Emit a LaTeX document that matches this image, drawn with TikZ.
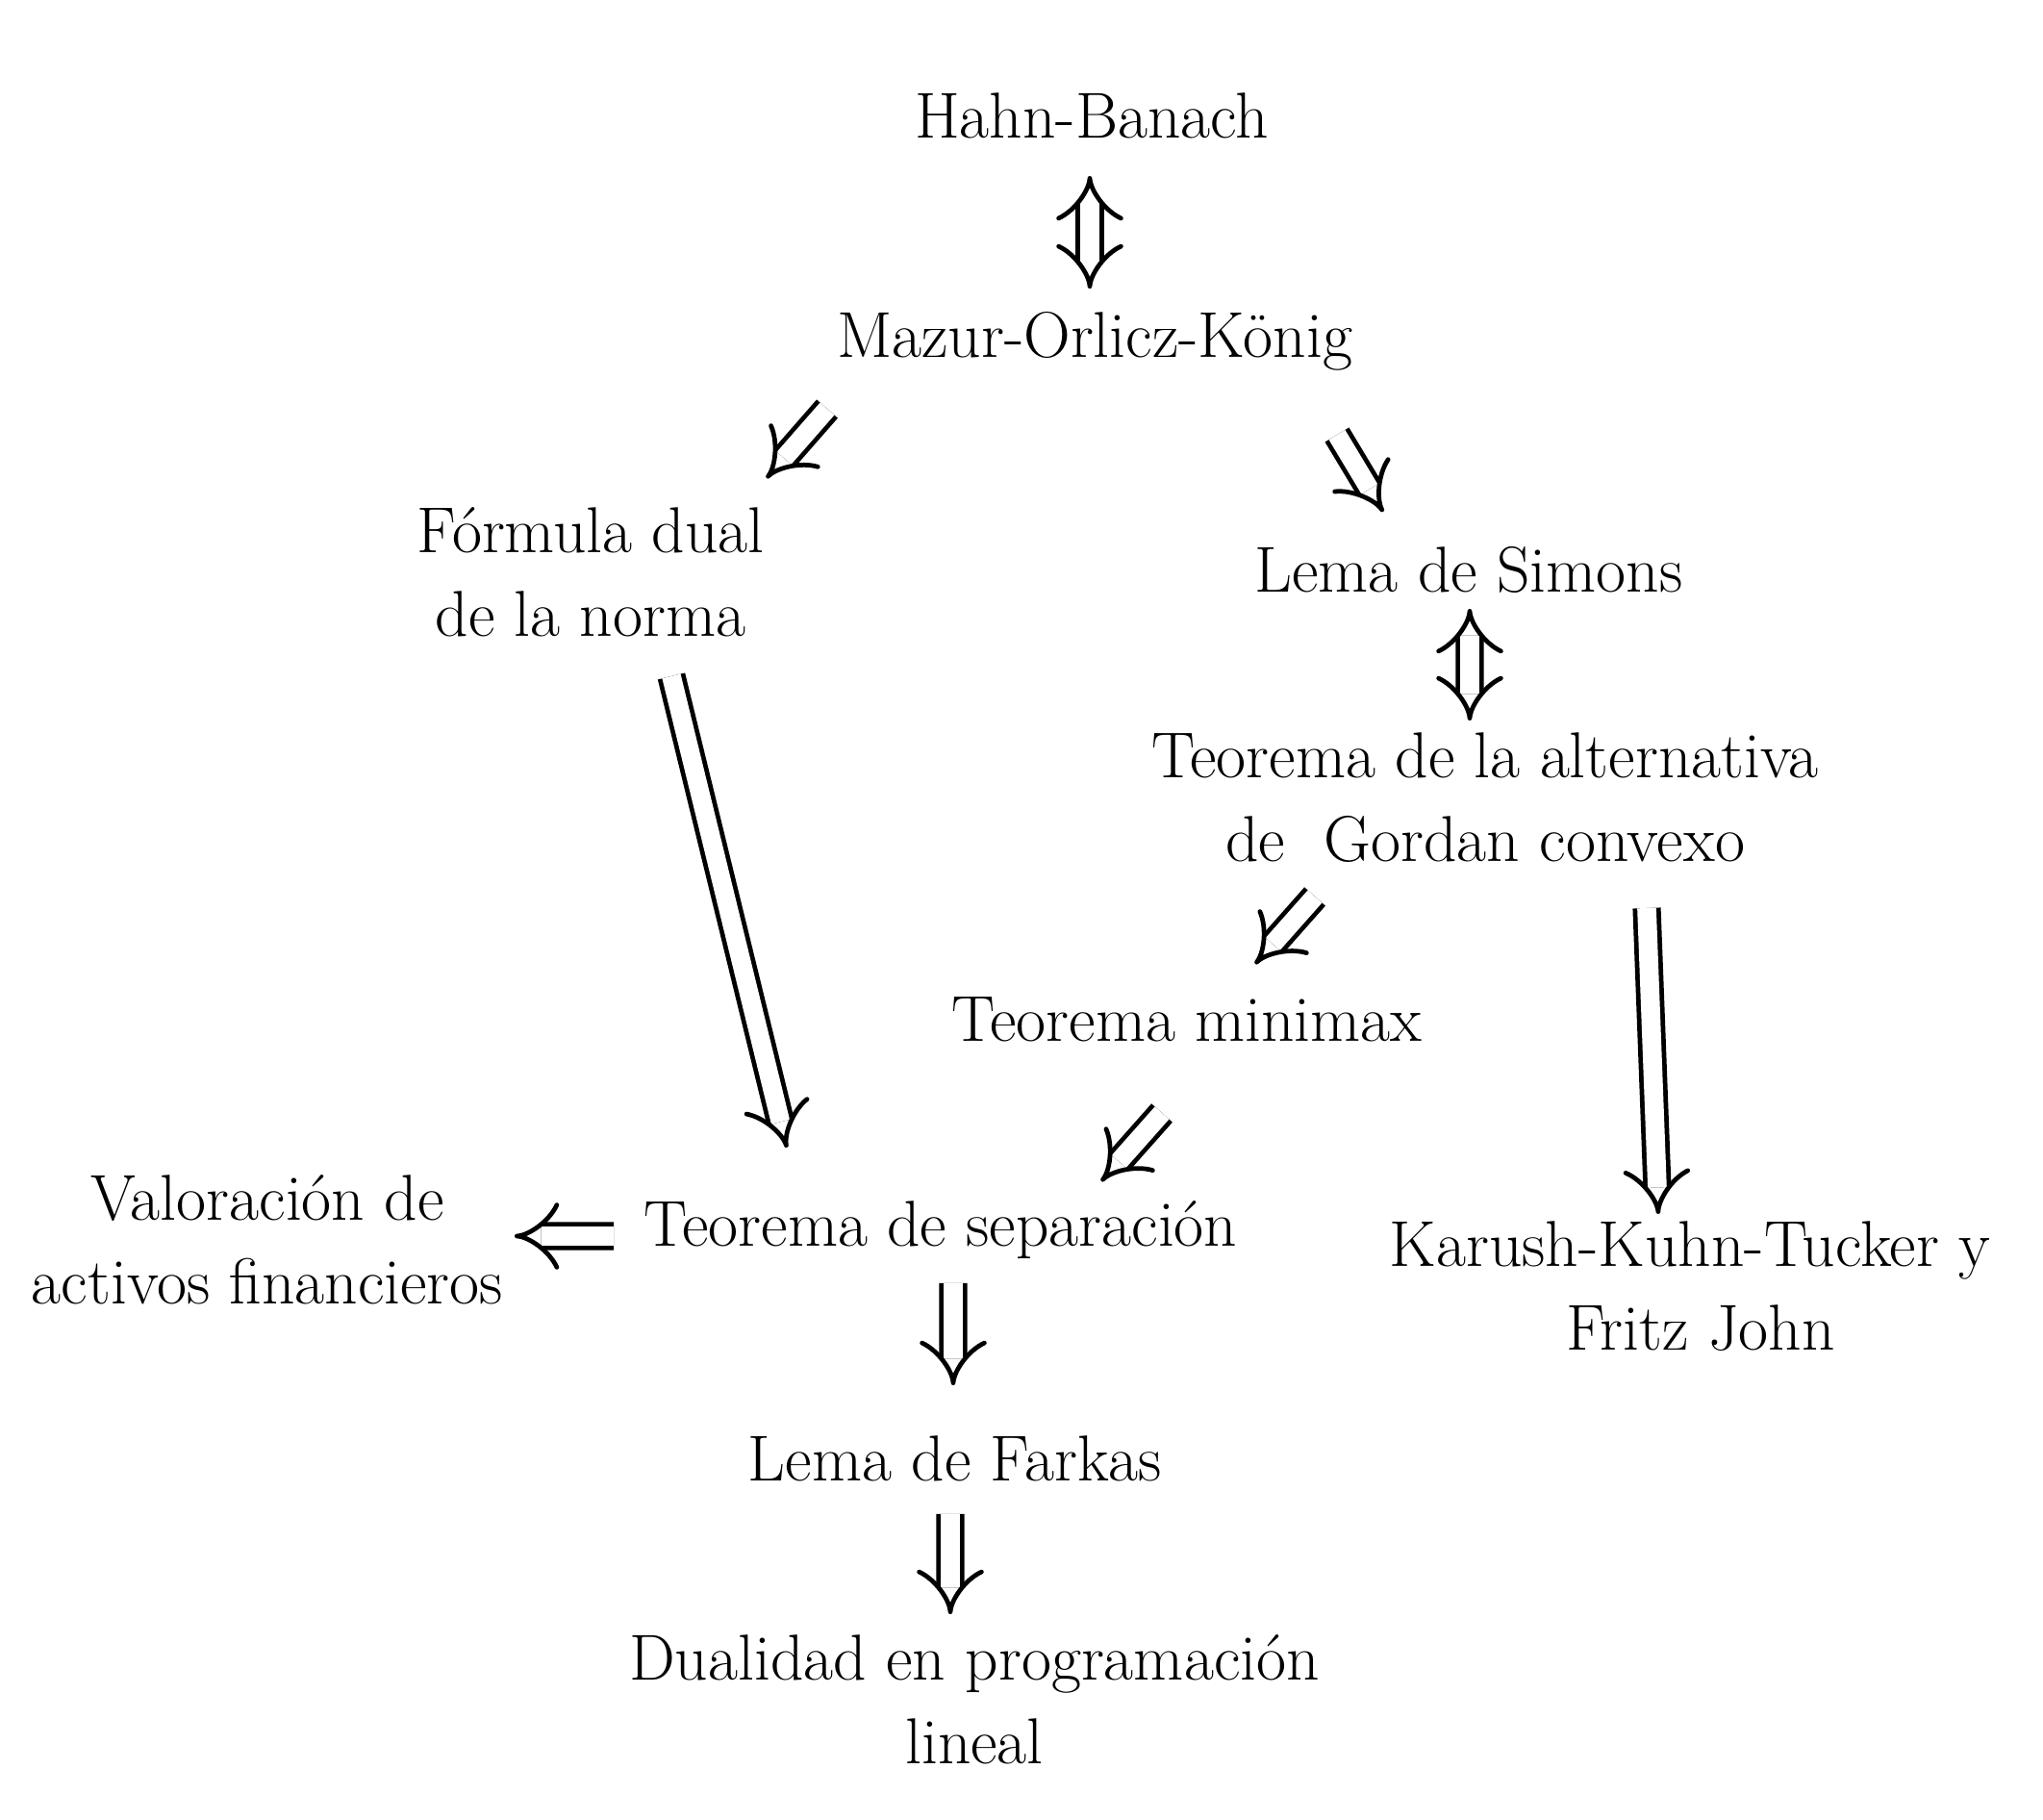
\documentclass[tikz,border=0pt]{standalone}
\usetikzlibrary{arrows.meta}
\begin{document}
\begin{tikzpicture}[
    every node/.style={font=\fontsize{19.2}{24.9}\selectfont, align=center},
    imp/.style={double, double distance=5.6pt, line width=1.35pt, -{Implies}},
    impboth/.style={double, double distance=5.6pt, line width=1.35pt, {Implies}-{Implies}}]
	\useasboundingbox (0,0) rectangle (21.24,-18.92);
	\node (hb) at (11.35,-1.20) {Hahn-Banach};
	\node (mok) at (11.38,-3.55) {Mazur-Orlicz-K\"onig};
	\node (fdn) at (6.14,-5.95) {F\'ormula dual\\de la norma};
	\node (simons) at (15.27,-5.92) {Lema de Simons};
	\node (gordan) at (15.44,-8.29) {Teorema de la alternativa\\de\ \ Gordan convexo};
	\node (minimax) at (12.34,-10.60) {Teorema minimax};
	\node (sep) at (9.78,-12.79) {Teorema de separaci\'on};
	\node (val) at (2.78,-12.89) {Valoraci\'on de\\activos financieros};
	\node (kkt) at (17.68,-13.37) {Karush-Kuhn-Tucker y\kern.22cm\\Fritz John};
	\node (farkas) at (9.93,-15.16) {Lema de Farkas};
	\node (dual) at (10.13,-17.67) {Dualidad en programaci\'on\\lineal};
	\draw[impboth] ([shift={(-0.02,-0.63)}]hb.center) -- ([shift={(-0.05,0.55)}]mok.center);
	\draw[imp] ([shift={(-2.78,-0.70)}]mok.center) -- ([shift={(1.83,0.98)}]fdn.center);
	\draw[imp] ([shift={(2.52,-0.97)}]mok.center) -- ([shift={(-0.89,0.60)}]simons.center);
	\draw[impboth] ([shift={(0.01,-0.41)}]simons.center) -- ([shift={(-0.16,0.80)}]gordan.center);
	\draw[imp] ([shift={(-1.77,-1.03)}]gordan.center) -- ([shift={(0.71,0.58)}]minimax.center);
	\draw[imp] ([shift={(-0.26,-0.97)}]minimax.center) -- ([shift={(1.67,0.51)}]sep.center);
	\draw[imp] ([shift={(0.84,-1.08)}]fdn.center) -- ([shift={(-1.60,0.86)}]sep.center);
	\draw[imp] ([shift={(1.68,-1.15)}]gordan.center) -- ([shift={(-0.44,0.75)}]kkt.center);
	\draw[imp] ([shift={(-3.40,-0.06)}]sep.center) -- ([shift={(2.57,0.04)}]val.center);
	\draw[imp] ([shift={(0.13,-0.55)}]sep.center) -- ([shift={(-0.02,0.76)}]farkas.center);
	\draw[imp] ([shift={(-0.05,-0.58)}]farkas.center) -- ([shift={(-0.25,0.89)}]dual.center);
\end{tikzpicture}
\end{document}
